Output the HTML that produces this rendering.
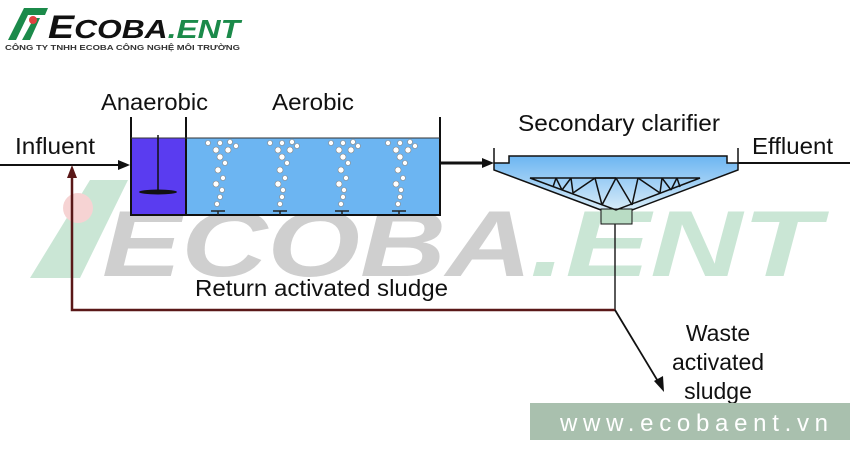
<!DOCTYPE html>
<html><head><meta charset="utf-8"><style>
html,body{margin:0;padding:0;background:#fff;width:850px;height:470px;overflow:hidden}
svg{display:block}
text{font-family:"Liberation Sans",Arial,sans-serif}
</style></head><body>
<svg width="850" height="470" viewBox="0 0 850 470" xmlns="http://www.w3.org/2000/svg">
<!-- big watermark -->
<g opacity="0.55">
<path d="M30 278 L90 180 L128 180 L80 278 Z" fill="#9fd3b4"/>
<circle cx="78" cy="208" r="15" fill="#f0b0b0"/>
<text x="102" y="276" font-size="94" font-weight="bold" font-style="italic" fill="#a8a8a8" textLength="430" lengthAdjust="spacingAndGlyphs">ECOBA</text>
<text x="530" y="276" font-size="94" font-weight="bold" font-style="italic" fill="#9fd3b4" textLength="290" lengthAdjust="spacingAndGlyphs">.ENT</text>
</g>
<!-- logo -->
<path d="M8 40 L24 8 L48 8 L45 15 L28 15 L16 40 Z" fill="#1b8a4a"/>
<path d="M22 40 L34 18 L40 18 L30 40 Z" fill="#1b8a4a"/>
<circle cx="33" cy="20" r="4" fill="#e04040"/>
<text x="48" y="38" font-size="32" font-weight="bold" font-style="italic" fill="#111" textLength="192" lengthAdjust="spacingAndGlyphs">E<tspan font-size="26">COBA</tspan><tspan fill="#1b8a4a" font-size="26">.ENT</tspan></text>
<text x="5" y="50" font-size="7.5" font-weight="bold" fill="#333" textLength="235" lengthAdjust="spacingAndGlyphs">CÔNG TY TNHH ECOBA CÔNG NGHỆ MÔI TRƯỜNG</text>
<!-- tanks -->
<rect x="131" y="138" width="55" height="77" fill="#5a3cf0"/>
<rect x="186" y="138" width="254" height="77" fill="#6cb5f2"/>
<path d="M131 117 V215 H440 V117 M186 117 V215" fill="none" stroke="#111" stroke-width="2"/>
<line x1="131" y1="138" x2="440" y2="138" stroke="#333" stroke-width="1"/>
<line x1="158" y1="135" x2="158" y2="192" stroke="#111" stroke-width="1.5"/>
<ellipse cx="158" cy="192" rx="19" ry="2.5" fill="#111"/>
<g fill="#fff" stroke="#888" stroke-width="0.6">
<circle cx="208" cy="143" r="2.5"/><circle cx="220" cy="143" r="2.5"/><circle cx="230" cy="142" r="2.5"/><circle cx="216" cy="150" r="3"/><circle cx="228" cy="150" r="3"/><circle cx="236" cy="146" r="2.5"/><circle cx="220" cy="157" r="3"/><circle cx="225" cy="163" r="2.5"/><circle cx="218" cy="170" r="3"/><circle cx="223" cy="178" r="2.5"/><circle cx="216" cy="184" r="3"/><circle cx="222" cy="190" r="2.5"/><circle cx="220" cy="197" r="2.5"/><circle cx="217" cy="204" r="2.5"/>
<circle cx="270" cy="143" r="2.5"/><circle cx="282" cy="143" r="2.5"/><circle cx="292" cy="142" r="2.5"/><circle cx="278" cy="150" r="3"/><circle cx="290" cy="150" r="3"/><circle cx="297" cy="146" r="2.5"/><circle cx="282" cy="157" r="3"/><circle cx="287" cy="163" r="2.5"/><circle cx="280" cy="170" r="3"/><circle cx="285" cy="178" r="2.5"/><circle cx="278" cy="184" r="3"/><circle cx="283" cy="190" r="2.5"/><circle cx="282" cy="197" r="2.5"/><circle cx="280" cy="204" r="2.5"/>
<circle cx="331" cy="143" r="2.5"/><circle cx="343" cy="143" r="2.5"/><circle cx="353" cy="142" r="2.5"/><circle cx="339" cy="150" r="3"/><circle cx="351" cy="150" r="3"/><circle cx="358" cy="146" r="2.5"/><circle cx="343" cy="157" r="3"/><circle cx="348" cy="163" r="2.5"/><circle cx="341" cy="170" r="3"/><circle cx="346" cy="178" r="2.5"/><circle cx="339" cy="184" r="3"/><circle cx="344" cy="190" r="2.5"/><circle cx="343" cy="197" r="2.5"/><circle cx="341" cy="204" r="2.5"/>
<circle cx="388" cy="143" r="2.5"/><circle cx="400" cy="143" r="2.5"/><circle cx="410" cy="142" r="2.5"/><circle cx="396" cy="150" r="3"/><circle cx="408" cy="150" r="3"/><circle cx="415" cy="146" r="2.5"/><circle cx="400" cy="157" r="3"/><circle cx="405" cy="163" r="2.5"/><circle cx="398" cy="170" r="3"/><circle cx="403" cy="178" r="2.5"/><circle cx="396" cy="184" r="3"/><circle cx="401" cy="190" r="2.5"/><circle cx="400" cy="197" r="2.5"/><circle cx="398" cy="204" r="2.5"/>
</g>
<g stroke="#222" stroke-width="1.5">
<line x1="211" y1="211" x2="225" y2="211"/><line x1="218" y1="211" x2="218" y2="215"/>
<line x1="273" y1="211" x2="287" y2="211"/><line x1="280" y1="211" x2="280" y2="215"/>
<line x1="335" y1="211" x2="349" y2="211"/><line x1="342" y1="211" x2="342" y2="215"/>
<line x1="392" y1="211" x2="406" y2="211"/><line x1="399" y1="211" x2="399" y2="215"/>
</g>
<!-- arrows -->
<line x1="0" y1="165" x2="122" y2="165" stroke="#111" stroke-width="2"/>
<path d="M130 165 L118 160 L118 170 Z" fill="#111"/>
<line x1="440" y1="163" x2="484" y2="163" stroke="#111" stroke-width="3"/>
<path d="M494 163 L482 158 L482 168 Z" fill="#111"/>
<line x1="738" y1="163" x2="850" y2="163" stroke="#111" stroke-width="2"/>
<!-- clarifier -->
<defs><linearGradient id="g" x1="0" y1="0" x2="0" y2="1"><stop offset="0" stop-color="#6cb5f2"/><stop offset="1" stop-color="#d8ecf8"/></linearGradient></defs>
<path d="M494 163 H509 V156 H727 V163 H738 V170 L632 210 H601 L494 170 Z" fill="url(#g)"/>
<path d="M494 148 V163 H509 V156 H727 V163 H738 V148 M494 163 V170 L601 210 M738 163 V170 L632 210" fill="none" stroke="#111" stroke-width="1.5"/>
<rect x="601" y="209" width="31" height="15" fill="#b9dcc4" stroke="#111" stroke-width="1"/>
<g fill="none" stroke="#111" stroke-width="1.5">
<path d="M530 178 H700 L616 210 Z"/>
<path d="M553 187 L556 178 M556 178 L562 190 M562 190 L571 178 M571 178 L573 193 M573 193 L595 178 M595 178 L602 205 M616 178 L595 178 M616 178 L602 205 M616 178 L632 205 M632 205 L638 178 M638 178 L660 193 M660 193 L662 178 M662 178 L671 190 M671 190 L677 178 M677 178 L680 187"/>
</g>
<!-- return line -->
<line x1="615" y1="224" x2="615" y2="310" stroke="#222" stroke-width="1.5"/>
<path d="M615 310 H72 V176" fill="none" stroke="#5a1818" stroke-width="2.5"/>
<path d="M72 165 L67 178 L77 178 Z" fill="#5a1818"/>
<line x1="615" y1="310" x2="659" y2="383" stroke="#111" stroke-width="1.8"/>
<path d="M664 392 L654 381 L663 376 Z" fill="#111"/>
<!-- labels -->
<g font-size="23" fill="#111">
<text x="15" y="154" textLength="80" lengthAdjust="spacingAndGlyphs">Influent</text>
<text x="101" y="110" textLength="107" lengthAdjust="spacingAndGlyphs">Anaerobic</text>
<text x="272" y="110" textLength="82" lengthAdjust="spacingAndGlyphs">Aerobic</text>
<text x="518" y="131" textLength="202" lengthAdjust="spacingAndGlyphs">Secondary clarifier</text>
<text x="752" y="154" textLength="81" lengthAdjust="spacingAndGlyphs">Effluent</text>
<text x="195" y="296" textLength="253" lengthAdjust="spacingAndGlyphs">Return activated sludge</text>
<text x="718" y="341" text-anchor="middle">Waste</text>
<text x="718" y="370" text-anchor="middle">activated</text>
<text x="718" y="399" text-anchor="middle">sludge</text>
</g>
<rect x="530" y="403" width="320" height="37" fill="#a9c0ae"/>
<text x="560" y="431" font-size="24" fill="#fff" textLength="268" lengthAdjust="spacing">www.ecobaent.vn</text>
</svg>
</body></html>
